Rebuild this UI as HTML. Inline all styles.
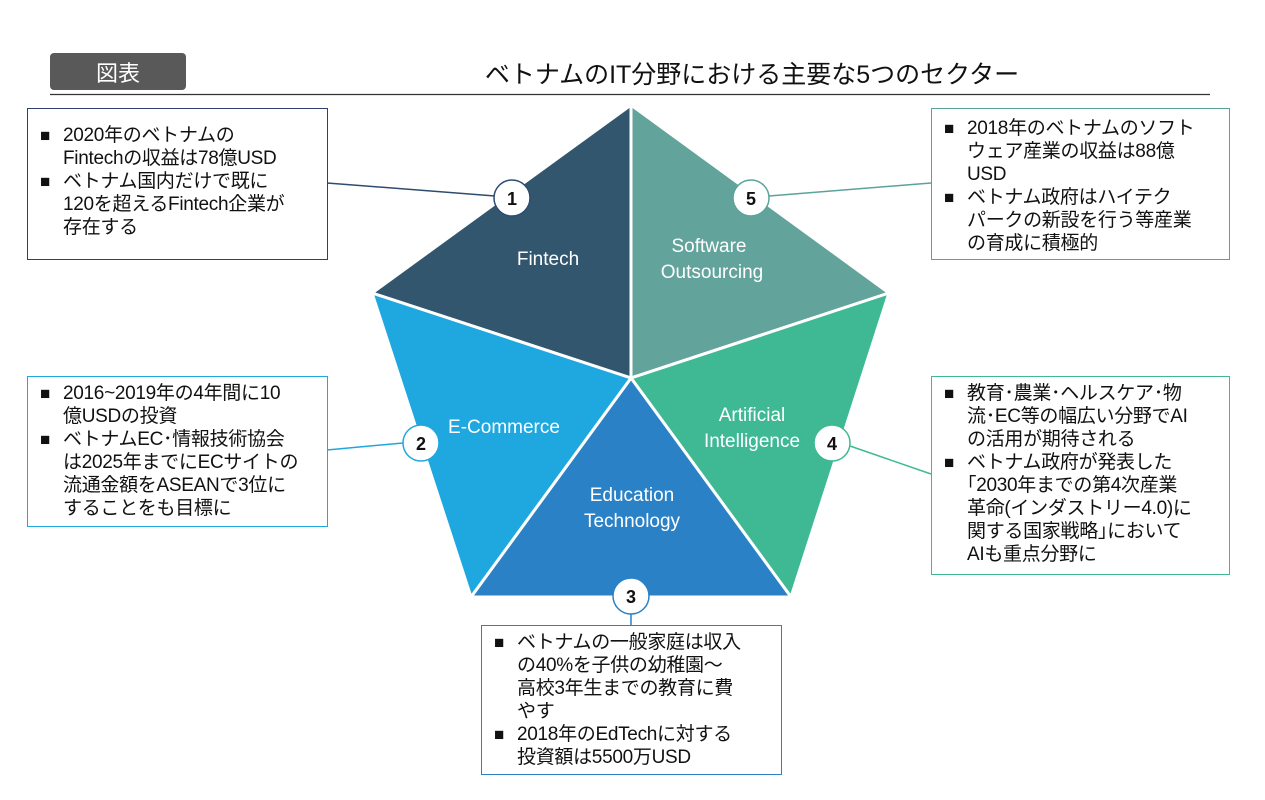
<!DOCTYPE html>
<html><head><meta charset="utf-8"><style>
body{margin:0;background:#fff;width:1265px;height:800px;overflow:hidden;font-family:"Liberation Sans","Noto Sans CJK JP",sans-serif;}
svg text{font-family:"Liberation Sans","Noto Sans CJK JP",sans-serif;}
.box{position:absolute;background:#fff;box-sizing:border-box;border:1.5px solid;padding:15px 6px 0 12px;font-size:19px;line-height:23px;color:#111;white-space:nowrap;letter-spacing:-0.3px}
.b{display:flex}
.b span.m{width:23px;flex:none;font-size:17px}
</style></head><body>
<svg width="1265" height="800" style="position:absolute;left:0;top:0">
<rect x="50" y="53" width="136" height="37" rx="4" fill="#595959"/>
<text x="118" y="81" font-size="22" fill="#fff" text-anchor="middle">図表</text>
<text x="752" y="83" font-size="25" fill="#111" text-anchor="middle">ベトナムのIT分野における主要な5つのセクター</text>
<line x1="50" y1="94.5" x2="1210" y2="94.5" stroke="#333" stroke-width="1.2"/>
<g stroke="#fff" stroke-width="3" stroke-linejoin="miter">
<polygon points="631,105 631,378 372,293" fill="#33566f"/>
<polygon points="631,105 889,293 631,378" fill="#62a39c"/>
<polygon points="889,293 791,597 631,378" fill="#3fb994"/>
<polygon points="791,597 471,597 631,378" fill="#2b81c6"/>
<polygon points="471,597 372,293 631,378" fill="#1ea8df"/>
</g>
<g fill="#fff" font-size="19" text-anchor="middle">
<text x="548" y="265">Fintech</text>
<text x="709" y="252">Software</text><text x="712" y="278">Outsourcing</text>
<text x="504" y="433">E-Commerce</text>
<text x="752" y="421">Artificial</text><text x="752" y="447">Intelligence</text>
<text x="632" y="501">Education</text><text x="632" y="527">Technology</text>
</g>
<g stroke-width="1.5">
<line x1="327" y1="183" x2="495" y2="196" stroke="#2e4b70"/>
<line x1="931" y1="183" x2="769" y2="196" stroke="#5aa39b"/>
<line x1="327" y1="450" x2="403" y2="443" stroke="#1ea8df"/>
<line x1="931" y1="474" x2="850" y2="446" stroke="#3fb994"/>
<line x1="631" y1="614" x2="631" y2="625" stroke="#2b81c6"/>
</g>
<g stroke-width="1.5" fill="#fff">
<circle cx="512" cy="198" r="18" stroke="#2e4b70"/>
<circle cx="751" cy="198" r="18" stroke="#5aa39b"/>
<circle cx="421" cy="443" r="18" stroke="#1ea8df"/>
<circle cx="832" cy="443" r="18" stroke="#3fb994"/>
<circle cx="631" cy="596" r="18" stroke="#2b81c6"/>
</g>
<g font-size="18" font-weight="bold" fill="#111" text-anchor="middle">
<text x="512" y="205">1</text><text x="751" y="205">5</text><text x="421" y="450">2</text><text x="832" y="450">4</text><text x="631" y="603">3</text>
</g>
</svg>
<div class="box" style="left:27px;top:108px;width:301px;height:152px;border-color:#2e3f70">
<div class="b"><span class="m">■</span><span>2020年のベトナムの<br>Fintechの収益は78億USD</span></div>
<div class="b"><span class="m">■</span><span>ベトナム国内だけで既に<br>120を超えるFintech企業が<br>存在する</span></div></div>
<div class="box" style="left:931px;top:108px;width:299px;height:152px;border-color:#5aa39b;padding-top:8px">
<div class="b"><span class="m">■</span><span>2018年のベトナムのソフト<br>ウェア産業の収益は88億<br>USD</span></div>
<div class="b"><span class="m">■</span><span>ベトナム政府はハイテク<br>パークの新設を行う等産業<br>の育成に積極的</span></div></div>
<div class="box" style="left:27px;top:376px;width:301px;height:151px;border-color:#1ea8df;padding-top:5px">
<div class="b"><span class="m">■</span><span>2016~2019年の4年間に10<br>億USDの投資</span></div>
<div class="b"><span class="m">■</span><span>ベトナムEC･情報技術協会<br>は2025年までにECサイトの<br>流通金額をASEANで3位に<br>することをも目標に</span></div></div>
<div class="box" style="left:931px;top:376px;width:299px;height:199px;border-color:#3fb994;padding-top:5px">
<div class="b"><span class="m">■</span><span>教育･農業･ヘルスケア･物<br>流･EC等の幅広い分野でAI<br>の活用が期待される</span></div>
<div class="b"><span class="m">■</span><span>ベトナム政府が発表した<br>｢2030年までの第4次産業<br>革命(インダストリー4.0)に<br>関する国家戦略｣において<br>AIも重点分野に</span></div></div>
<div class="box" style="left:481px;top:625px;width:301px;height:150px;border-color:#2b81c6;padding-top:5px">
<div class="b"><span class="m">■</span><span>ベトナムの一般家庭は収入<br>の40%を子供の幼稚園～<br>高校3年生までの教育に費<br>やす</span></div>
<div class="b"><span class="m">■</span><span>2018年のEdTechに対する<br>投資額は5500万USD</span></div></div>
</body></html>
